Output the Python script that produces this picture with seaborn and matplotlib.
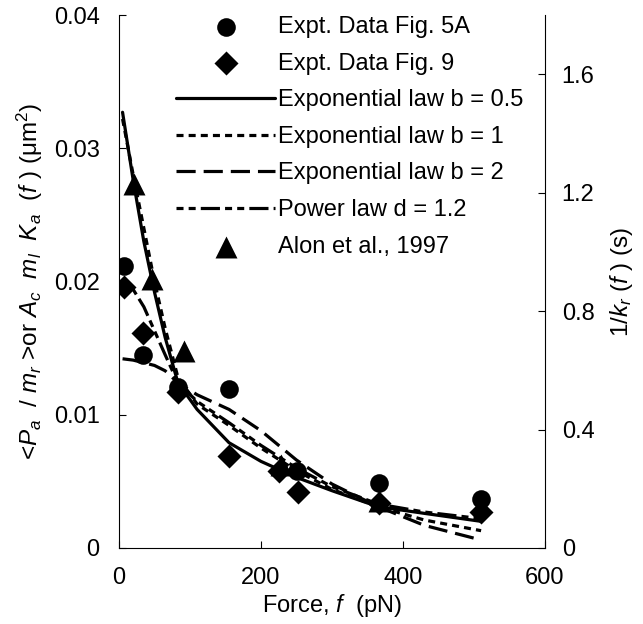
import numpy as np
import pandas as pd
import matplotlib
matplotlib.use("Agg")
import matplotlib.pyplot as plt
import seaborn as sns

# ---------------- data ----------------
force_5a = [7, 34, 83, 155, 250, 366, 510]
val_5a = [0.0212, 0.0145, 0.0121, 0.0119, 0.0058, 0.0049, 0.0037]

force_fig9 = [7, 34, 83, 155, 225, 252, 366, 510]
val_fig9 = [0.0196, 0.0161, 0.0117, 0.0069, 0.0058, 0.0042, 0.0034, 0.0027]

force_alon = [21, 47, 92, 228, 366]
val_alon = [1.23, 0.91, 0.665, 0.28, 0.16]   # 1/k_r (s), right axis

force_fit = [5, 20, 35, 50, 65, 83, 110, 155, 200, 250, 300, 365, 430, 510]
exp_b05 = [0.0327, 0.0276, 0.0230, 0.0192, 0.0158, 0.0124, 0.0104, 0.0079, 0.0065, 0.0053, 0.0043, 0.0031, 0.0026, 0.0020]
exp_b1 = [0.0322, 0.0280, 0.0240, 0.0200, 0.0165, 0.0128, 0.0108, 0.0092, 0.0075, 0.0058, 0.0044, 0.0031, 0.0021, 0.0013]
exp_b2 = [0.0142, 0.0141, 0.0139, 0.0137, 0.0133, 0.0124, 0.0115, 0.0104, 0.0088, 0.0066, 0.0048, 0.0031, 0.0017, 0.0006]
power_d12 = [0.0200, 0.0194, 0.0181, 0.0163, 0.0145, 0.0124, 0.0110, 0.0094, 0.0077, 0.0060, 0.0046, 0.0033, 0.0027, 0.0022]

left_ticks = [0, 0.01, 0.02, 0.03, 0.04]
left_labels = ["0", "0.01", "0.02", "0.03", "0.04"]
right_ticks = [0, 0.4, 0.8, 1.2, 1.6]
right_labels = ["0", "0.4", "0.8", "1.2", "1.6"]
x_ticks = [0, 200, 400, 600]

# ---------------- style ----------------
sns.set_style("ticks")
plt.rcParams["font.family"] = ["Liberation Sans", "DejaVu Sans"]
plt.rcParams["mathtext.fontset"] = "custom"
plt.rcParams["mathtext.rm"] = "Liberation Sans"
plt.rcParams["mathtext.it"] = "Liberation Sans:italic"
plt.rcParams["mathtext.bf"] = "Liberation Sans:bold"
plt.rcParams["text.color"] = "black"
plt.rcParams["axes.labelcolor"] = "black"
plt.rcParams["xtick.color"] = "black"
plt.rcParams["ytick.color"] = "black"

fig = plt.figure(figsize=(6.43, 6.24), dpi=100)
ax = fig.add_axes([119 / 643, 1 - 548 / 624, (545 - 119) / 643, (548 - 15) / 624])
ax2 = ax.twinx()

lw = 2.3
fits = pd.DataFrame({"force": force_fit, "b05": exp_b05, "b1": exp_b1,
                     "b2": exp_b2, "pw": power_d12})

sns.lineplot(data=fits, x="force", y="b05", ax=ax, color="black", lw=lw,
             label="Exponential law b = 0.5")
sns.lineplot(data=fits, x="force", y="b1", ax=ax, color="black", lw=lw,
             label="Exponential law b = 1")
sns.lineplot(data=fits, x="force", y="b2", ax=ax, color="black", lw=lw,
             label="Exponential law b = 2")
sns.lineplot(data=fits, x="force", y="pw", ax=ax, color="black", lw=lw,
             label="Power law d = 1.2")
lines = ax.get_lines()
lines[1].set_dashes([2.2, 1.6])
lines[2].set_dashes([6, 2.5])
lines[3].set_dashes([2.2, 1.6, 2.2, 1.6, 6, 1.6])

d5a = pd.DataFrame({"force": force_5a, "val": val_5a})
d9 = pd.DataFrame({"force": force_fig9, "val": val_fig9})
dal = pd.DataFrame({"force": force_alon, "val": val_alon})
sns.scatterplot(data=d5a, x="force", y="val", ax=ax, color="black", marker="o",
                s=180, edgecolor="black", linewidth=0, label="Expt. Data Fig. 5A", zorder=5)
sns.scatterplot(data=d9, x="force", y="val", ax=ax, color="black", marker="D",
                s=150, edgecolor="black", linewidth=0, label="Expt. Data Fig. 9", zorder=5)
sns.scatterplot(data=dal, x="force", y="val", ax=ax2, color="black", marker="^",
                s=250, edgecolor="black", linewidth=0, label="Alon et al., 1997", zorder=5)

ax.set_xlim(0, 600)
ax.set_ylim(0, 0.04)
ax2.set_ylim(0, 1.8)
ax.set_xticks(x_ticks)
ax.set_xticklabels([str(t) for t in x_ticks])
ax.set_yticks(left_ticks)
ax.set_yticklabels(left_labels)
ax2.set_yticks(right_ticks)
ax2.set_yticklabels(right_labels)

for a in (ax, ax2):
    a.tick_params(direction="in", length=5, width=0.8, labelsize=17, colors="black")
    a.spines["top"].set_visible(False)
    for s in a.spines.values():
        s.set_linewidth(0.8)
        s.set_color("black")
ax.tick_params(axis="x", pad=14)
ax.tick_params(axis="y", pad=14)
ax2.tick_params(axis="y", pad=12)
ax.spines["right"].set_visible(False)
ax2.spines["left"].set_visible(False)
ax2.spines["bottom"].set_visible(False)

ax.set_xlabel("Force, $f$  (pN)", fontsize=17, labelpad=2)
ax.set_ylabel(r"<$P_a$  / $m_r$ >or $A_c$  $m_l$  $K_a$  ($f$ ) (μm$^2$)", fontsize=17.5, labelpad=6)
ax2.set_ylabel(r"1/$k_r$ ($f$ ) (s)", fontsize=17.5, labelpad=10)

# legend
h1, l1 = ax.get_legend_handles_labels()
h2, l2 = ax2.get_legend_handles_labels()
hd = dict(zip(l1 + l2, h1 + h2))
order = ["Expt. Data Fig. 5A", "Expt. Data Fig. 9", "Exponential law b = 0.5",
         "Exponential law b = 1", "Exponential law b = 2", "Power law d = 1.2",
         "Alon et al., 1997"]
if ax2.get_legend() is not None:
    ax2.get_legend().remove()
ax.legend([hd[k] for k in order], order, loc="upper left",
          bbox_to_anchor=(0.112, 1.016), frameon=False, fontsize=17,
          handlelength=4.2, handletextpad=0.1, labelspacing=0.62,
          borderaxespad=0, markerscale=1.0)

fig.savefig("out.png", dpi=100)
